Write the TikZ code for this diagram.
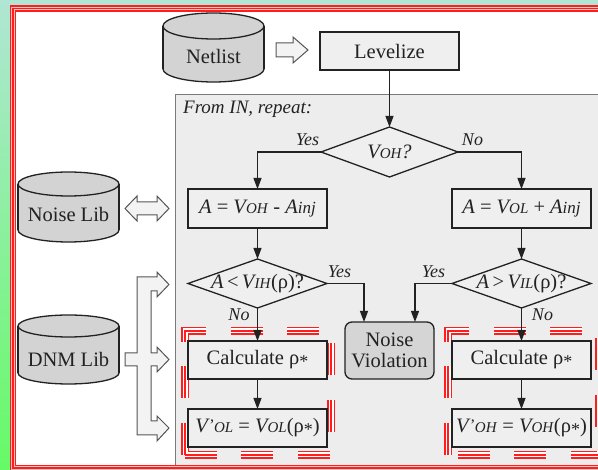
\documentclass[tikz,border=0pt]{standalone}
\usepackage{fontspec}
\setmainfont{Liberation Serif}
\usetikzlibrary{arrows.meta,shapes.geometric}

\definecolor{inkline}{HTML}{222222}
\definecolor{boxfill}{HTML}{EFEFEF}
\definecolor{regionfill}{HTML}{EDEDED}
\definecolor{regionline}{HTML}{7A7A7A}
\definecolor{drumfill}{HTML}{D3D3D3}
\definecolor{nvfill}{HTML}{D5D5D5}
\definecolor{hollowfill}{HTML}{F3F3F3}
\definecolor{hollowline}{HTML}{555555}
\definecolor{markred}{HTML}{FF1E1E}
\definecolor{framegap}{HTML}{F4C4BE}
\definecolor{skytop}{HTML}{B0E6D4}
\definecolor{grassbottom}{HTML}{66FA66}

% small italic capitals used as subscripts, and other inline pieces
\newcommand\scx[1]{{\fontsize{15}{15}\selectfont #1}}
\newcommand\injx{{\fontsize{17}{17}\selectfont inj}}
\newcommand\astx{\raisebox{-3pt}{\fontsize{18}{18}\selectfont *}}
\newcommand\primex{\kern1.5pt\raisebox{2pt}{\fontsize{16}{16}\selectfont\upshape ’}\kern-0.5pt}

% database drum: left, right, top, bottom, cap radius
\newcommand\drum[5]{%
  \pgfmathsetmacro\dcx{(#1+#2)/2}%
  \pgfmathsetmacro\drx{(#2-#1)/2}%
  \filldraw[dbshape] (\dcx,#4-#5) ellipse[x radius=\drx, y radius=#5];
  \fill[dbfill] (#1,#3+#5) rectangle (#2,#4-#5);
  \draw[dbline] (#1,#3+#5) -- (#1,#4-#5) (#2,#3+#5) -- (#2,#4-#5);
  \filldraw[dbshape] (\dcx,#3+#5) ellipse[x radius=\drx, y radius=#5];
}

\begin{document}
\begin{tikzpicture}[x=1pt,y=-1pt,
  every node/.style={font=\fontsize{20.5}{21}\selectfont, text=inkline},
  procbox/.style={draw=inkline, line width=1.3pt, fill=boxfill,
    minimum width=139pt, minimum height=38pt, inner sep=0pt, outer sep=0pt},
  decide/.style={diamond, draw=inkline, line width=1.3pt, fill=boxfill,
    minimum width=139pt, minimum height=49pt, inner sep=0pt, outer sep=0pt},
  nvbox/.style={procbox, fill=nvfill, rounded corners=7pt,
    minimum width=89pt, minimum height=57pt, align=center},
  dbtext/.style={inner sep=0pt, anchor=base},
  lbl/.style={font=\fontsize{18}{18}\selectfont\itshape, inner sep=0pt, anchor=base},
  flow/.style={draw=inkline, line width=1.1pt, -{Triangle[length=11pt,width=8pt]}},
  hollow/.style={fill=hollowfill, draw=hollowline, line width=1pt, line join=miter},
  dbshape/.style={fill=drumfill, draw=inkline, line width=1.3pt},
  dbfill/.style={fill=drumfill},
  dbline/.style={draw=inkline, line width=1.3pt},
  markA/.style={draw=markred, line width=8pt, dash pattern=on 32pt off 24.5pt, line join=miter},
  markB/.style={markA, draw=white, line width=5pt},
  markC/.style={markA, line width=2.2pt},
  frameA/.style={draw=markred, line width=6.5pt},
  frameB/.style={draw=framegap, line width=3.6pt},
  frameC/.style={draw=markred, line width=1.4pt}]

\useasboundingbox (0,0) rectangle (598,470);
\clip (0,0) rectangle (598,470);

% backdrop and framed white sheet
\shade[top color=skytop, bottom color=grassbottom] (0,0) rectangle (598,470);
\fill[white] (13,8.5) rectangle (612,468);

% loop region
\filldraw[fill=regionfill, draw=regionline, line width=1pt] (175,95) rectangle (620,480);
\node[anchor=base west, inner sep=0pt, font=\fontsize{19}{19}\selectfont\itshape] (loop) at (183,114) {From IN, repeat:};

% sheet frame
\foreach \s in {frameA,frameB,frameC}
  \draw[\s] (13,8.5) rectangle (612,468);

% highlight marks around the two result columns
\foreach \s in {markA,markB,markC}
  \draw[\s] (185,455) -- (185,331) -- (331,331) -- (331,455) -- cycle;
\foreach \s in {markA,markB,markC}
  \draw[\s] (448,455) -- (448,331) -- (599,331) -- (599,455) -- cycle;

% libraries
\drum{163}{264}{13}{82}{13}
\node[dbtext] (netlist) at (213.5,64) {Netlist};
\drum{18}{119}{172}{242}{12}
\node[dbtext] (noiselib) at (68.5,222) {Noise Lib};
\drum{18}{119}{315}{384}{11}
\node[dbtext] (dnmlib) at (68.5,367) {DNM Lib};

% block arrows
\filldraw[hollow] (276,43) -- (293,43) -- (293,37) -- (308,50) -- (293,63) -- (293,57) -- (276,57) -- cycle;
\filldraw[hollow] (125,208.5) -- (137,196) -- (137,202) -- (157,202) -- (157,196) -- (169,208.5)
  -- (157,221) -- (157,215) -- (137,215) -- (137,221) -- cycle;
\filldraw[hollow] (125,353) -- (137,353) -- (137,277) -- (157,277) -- (157,272) -- (169,284.5)
  -- (157,297) -- (157,291) -- (151,291) -- (151,353) -- (157,353) -- (157,347) -- (169,359.5)
  -- (157,372) -- (157,366) -- (151,366) -- (151,421) -- (157,421) -- (157,416) -- (169,428)
  -- (157,441) -- (157,435) -- (137,435) -- (137,366) -- (125,366) -- cycle;

% flow steps
\node[procbox] (levelize) at (389.5,51) {Levelize};
\node[decide, minimum width=137pt, minimum height=50pt] (voh) at (389.5,152)
  {\makebox[0pt]{\textit{V\scx{OH}?}}};
\node[procbox, minimum height=39pt] (ahigh) at (257.5,208.5)
  {\textit{A} = \textit{V\scx{OH}} - \textit{A\injx}};
\node[procbox, minimum height=39pt] (alow) at (521.5,208.5)
  {\textit{A} = \textit{V\scx{OL}} + \textit{A\injx}};
\node[decide] (vih) at (257.5,283.5)
  {\makebox[0pt]{\textit{A}\,<\,\textit{V\scx{IH}}(ρ)?}};
\node[decide] (vil) at (521.5,283.5)
  {\makebox[0pt]{\textit{A}\,>\,\textit{V\scx{IL}}(ρ)?}};
\node[nvbox] (violation) at (389.5,350.5) {Noise\\Violation};
\node[procbox] (calclow) at (257.5,360) {Calculate ρ\astx};
\node[procbox] (calchigh) at (521.5,360) {Calculate ρ\astx};
\node[procbox] (vol) at (257.5,428)
  {\textit{V\primex\scx{OL}} = \textit{V\scx{OL}}(ρ\astx)};
\node[procbox] (vohnew) at (521.5,428)
  {\textit{V\primex\scx{OH}} = \textit{V\scx{OH}}(ρ\astx)};

% connectors
\draw[flow] (levelize.south) -- (voh.north);
\draw[flow] (voh.west) -| (ahigh.north);
\draw[flow] (voh.east) -| (alow.north);
\draw[flow] (ahigh.south) -- (vih.north);
\draw[flow] (alow.south) -- (vil.north);
\draw[flow] (vih.east) -| ([xshift=-25.5pt]violation.north);
\draw[flow] (vil.west) -| ([xshift=25.5pt]violation.north);
\draw[flow] (vih.south) -- (calclow.north);
\draw[flow] (vil.south) -- (calchigh.north);
\draw[flow] (calclow.south) -- (vol.north);
\draw[flow] (calchigh.south) -- (vohnew.north);

% branch labels
\node[lbl] (yestop) at (307.5,146) {Yes};
\node[lbl] (notop) at (472.5,146) {No};
\node[lbl] (yesleft) at (339.5,278) {Yes};
\node[lbl] (yesright) at (433.5,278) {Yes};
\node[lbl] (noleft) at (239,321) {No};
\node[lbl] (noright) at (542.5,321) {No};
\end{tikzpicture}
\end{document}
